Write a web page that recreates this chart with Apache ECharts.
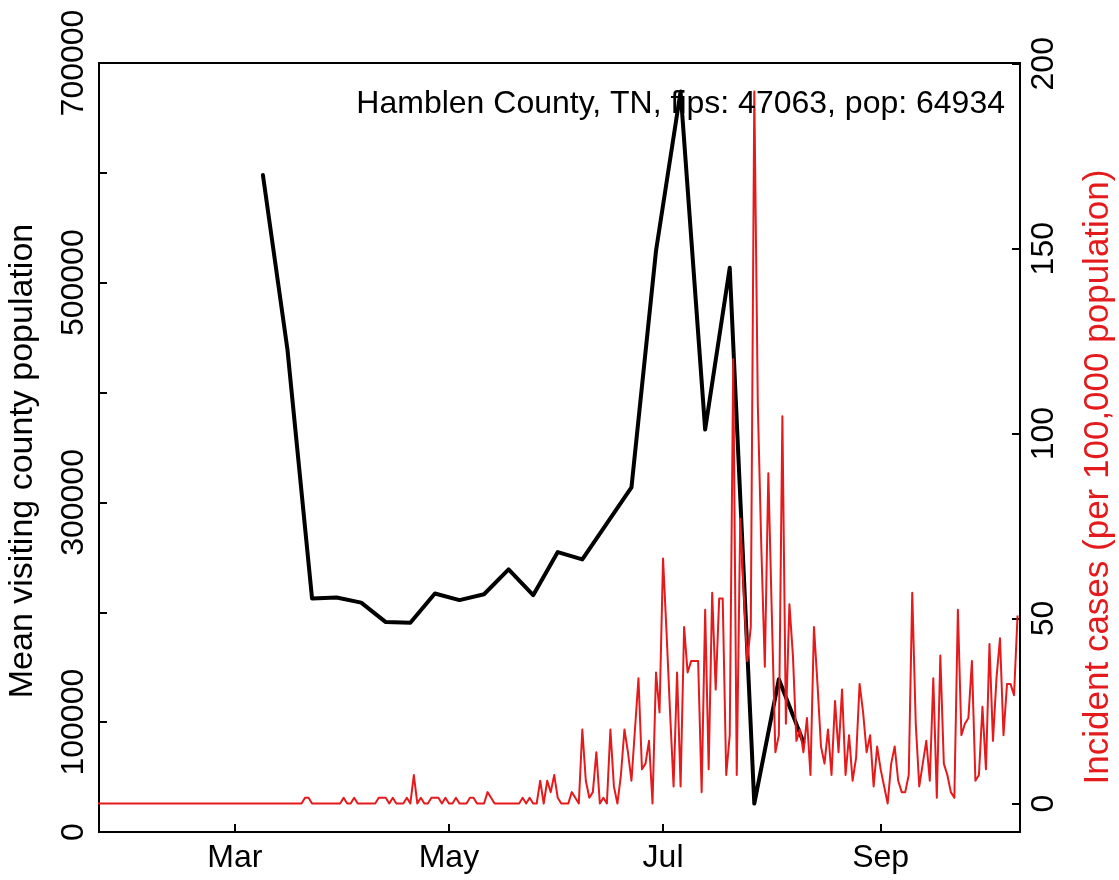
<!DOCTYPE html>
<html>
<head>
<meta charset="utf-8">
<script src="https://cdn.jsdelivr.net/npm/echarts@6/dist/echarts.min.js"></script>
<style>
html,body{margin:0;padding:0;background:#fff;}
#chart{width:1119px;height:880px;}
</style>
</head>
<body>
<div id="chart"></div>
<script>
// ---- data ----
const countyLabel = 'Hamblen County, TN, fips: 47063, pop: 64934';
const leftAxisTitle = 'Mean visiting county population';
const rightAxisTitle = 'Incident cases (per 100,000 population)';

const visitDates = ['2020-03-09','2020-03-16','2020-03-23','2020-03-30','2020-04-06','2020-04-13','2020-04-20','2020-04-27',
  '2020-05-04','2020-05-11','2020-05-18','2020-05-25','2020-06-01','2020-06-08','2020-06-15','2020-06-22','2020-06-29',
  '2020-07-06','2020-07-13','2020-07-20','2020-07-27','2020-08-03','2020-08-10'];
const visitPop = [598000,439000,212600,213400,208800,191100,190400,217100,
  211100,216400,239100,215600,254800,248100,280900,313600,529100,
  674000,366400,513600,25900,139100,81800];

const incidentStart = '2020-01-22';
const incidentJan = [0,0,0,0,0,0,0,0,0,0];
const incidentFeb = [0,0,0,0,0,0,0,0,0,0,0,0,0,0,0,0,0,0,0,0,0,0,0,0,0,0,0,0,0];
const incidentMar = [0,0,0,0,0,0,0,0,0,0,0,0,0,0,0,0,0,0,0,0,1.54,1.54,0,0,0,0,0,0,0,0,0];
const incidentApr = [1.54,0,0,1.54,0,0,0,0,0,0,1.54,1.54,1.54,0,1.54,0,0,0,1.54,0,7.7,0,1.54,0,0,1.54,1.54,1.54,0,1.54];
const incidentMay = [0,0,1.54,0,0,0,1.54,1.54,0,0,0,3.08,1.54,0,0,0,0,0,0,0,0,1.54,0,1.54,0,0,6.16,0,6.16,3.08,7.7];
const incidentJun = [1.54,0,0,0,3.08,1.54,0,20.02,6.16,1.54,3.08,13.86,0,1.54,0,20.02,4.62,0,7.7,20.02,13.86,6.16,20.02,33.88,9.24,10.78,16.94,0,35.42,24.64];
const incidentJul = [66.22,46.2,24.64,4.62,35.42,4.62,47.74,35.42,38.5,38.5,38.5,3.08,52.36,9.24,56.98,30.8,55.44,55.44,7.7,18.48,120.12,7.7,77,56.98,38.5,47.74,192.5,107.8,69.3,36.96,89.32];
const incidentAug = [50.82,13.86,18.48,104.72,21.56,53.9,40.04,16.94,20.02,13.86,23.1,7.7,47.74,32.34,15.4,10.78,20.02,7.7,27.72,13.86,30.8,7.7,18.48,6.16,12.32,32.34,24.64,13.86,18.48,4.62,15.4];
const incidentSep = [9.24,4.62,0,10.78,15.4,6.16,3.08,3.08,7.7,56.98,21.56,4.62,10.78,16.94,6.16,33.88,1.54,40.04,10.78,7.7,3.08,1.54,52.36,18.48,21.56,23.1,38.5,6.16,7.7,26.18];
const incidentOct = [9.24,43.12,16.94,33.88,44.66,18.48,32.34,32.34,29.26,50.82];

const xTickDates = ['2020-03-01','2020-05-01','2020-07-01','2020-09-01'];
const xTickLabels = ['Mar','May','Jul','Sep'];
const leftTickValues = [0,100000,200000,300000,400000,500000,600000,700000];
const leftLabelValues = [0,100000,300000,500000,700000];
const rightTickValues = [0,50,100,150,200];

// ---- helpers ----
function dayNum(s){
  const p = s.split('-').map(Number);
  return (Date.UTC(p[0], p[1]-1, p[2]) - Date.UTC(2020,0,1)) / 86400000;
}
const incidentValues = [].concat(incidentJan, incidentFeb, incidentMar, incidentApr, incidentMay,
  incidentJun, incidentJul, incidentAug, incidentSep, incidentOct);
const start = dayNum(incidentStart);
const incidentData = incidentValues.map((v,i)=>[start+i, v]);
const visitData = visitDates.map((d,i)=>[dayNum(d), visitPop[i]]);
const xTickNums = xTickDates.map(dayNum);

const FONT = '"Liberation Sans", Arial, Helvetica, sans-serif';
const RED = '#E41A1C';

const chart = echarts.init(document.getElementById('chart'), null, {renderer:'canvas'});
chart.setOption({
  backgroundColor: '#ffffff',
  animation: false,
  grid: {left: 99, right: 99, top: 63, bottom: 48, show: true, borderColor: '#000', borderWidth: 2, backgroundColor: 'transparent'},
  xAxis: {
    type: 'value', min: 21.3, max: 283.7,
    axisLine: {show: false},
    splitLine: {show: false},
    axisTick: {show: true, inside: true, length: 8, lineStyle: {color: '#000', width: 2}, customValues: xTickNums},
    axisLabel: {show: true, customValues: xTickNums, margin: 10, color: '#000', fontSize: 32, fontFamily: FONT,
      formatter: function(v){ const i = xTickNums.indexOf(v); return i >= 0 ? xTickLabels[i] : ''; }}
  },
  yAxis: [
    {
      type: 'value', position: 'left', min: 0, max: 700000,
      axisLine: {show: false}, splitLine: {show: false},
      axisTick: {show: true, inside: true, length: 8, lineStyle: {color: '#000', width: 2}, customValues: leftTickValues},
      axisLabel: {show: true, customValues: leftLabelValues, rotate: 90, margin: 9, color: '#000', fontSize: 32, fontFamily: FONT,
        formatter: function(v){ return String(v); }}
    },
    {
      type: 'value', position: 'right', min: -7.7, max: 200.2,
      axisLine: {show: false}, splitLine: {show: false},
      axisTick: {show: true, inside: true, length: 8, lineStyle: {color: '#000', width: 2}, customValues: rightTickValues},
      axisLabel: {show: true, customValues: rightTickValues, rotate: 90, margin: 8, color: '#000', fontSize: 32, fontFamily: FONT,
        formatter: function(v){ return String(v); }}
    }
  ],
  series: [
    {
      type: 'line', name: 'visits', yAxisIndex: 0, data: visitData, showSymbol: false, symbol: 'none',
      lineStyle: {color: '#000', width: 4, join: 'round', cap: 'round'}, z: 3
    },
    {
      type: 'line', name: 'incidence', yAxisIndex: 1, data: incidentData, showSymbol: false, symbol: 'none',
      lineStyle: {color: RED, width: 2, join: 'round'}, z: 4
    }
  ],
  graphic: [
    {type: 'text', x: 1005, y: 104, z: 10, style: {text: countyLabel, fill: '#000', font: '32px ' + FONT, textAlign: 'right', textVerticalAlign: 'middle'}},
    {type: 'text', x: 23, y: 461, rotation: Math.PI/2, z: 10, style: {text: leftAxisTitle, fill: '#000', font: '34px ' + FONT, textAlign: 'center', textVerticalAlign: 'middle'}},
    {type: 'text', x: 1098, y: 477, rotation: Math.PI/2, z: 10, style: {text: rightAxisTitle, fill: RED, font: '35px ' + FONT, textAlign: 'center', textVerticalAlign: 'middle'}}
  ]
});
</script>
</body>
</html>
